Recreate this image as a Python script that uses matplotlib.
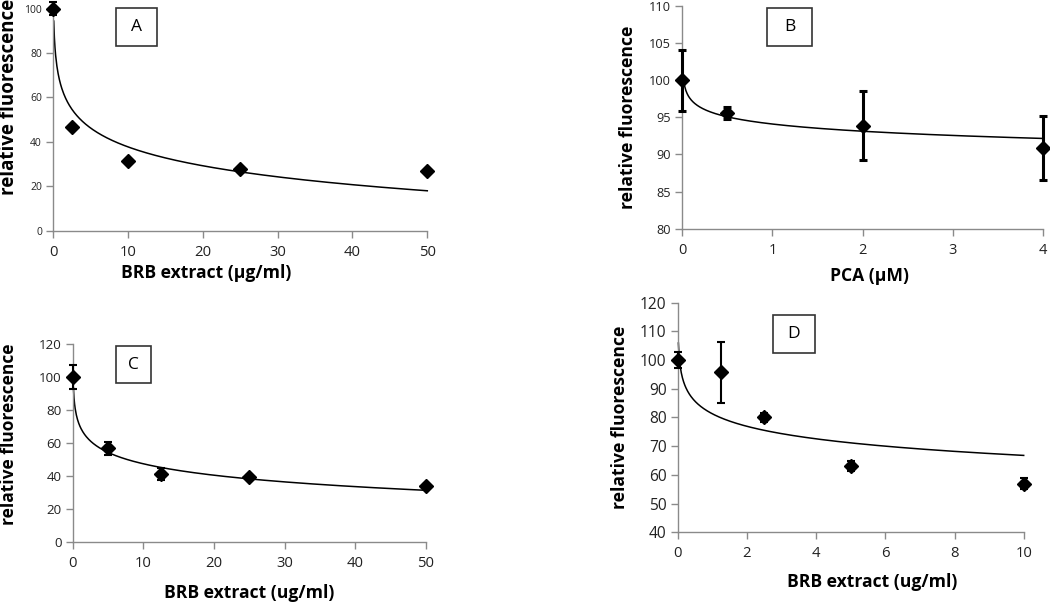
import numpy as np
import matplotlib
matplotlib.use('Agg')
import matplotlib.pyplot as plt
from matplotlib.patches import Rectangle

plt.rcParams['font.family'] = ['Open Sans', 'DejaVu Sans']

W, H = 1050, 604

# ---- data ----
# panel A: BRB extract (ug/ml)
a_x = [0, 2.5, 10, 25, 50]
a_y = [100, 46.5, 31.5, 28, 26.8]
a_err = [3, 0, 0, 0, 0]
a_fit = (-12.3, 66.1)      # y = k*ln(x) + c

# panel B: PCA (uM)
b_x = [0, 0.5, 2, 4]
b_y = [100, 95.6, 93.9, 90.9]
b_err = [4.1, 0.85, 4.7, 4.3]
b_fit = (-1.4, 94.1)

# panel C: BRB extract (ug/ml)
c_x = [0, 5, 12.5, 25, 50]
c_y = [100, 57, 41.2, 39.5, 34.2]
c_err = [7.2, 4, 3.8, 1, 1]
c_xerr = [0, 1, 1, 1, 1]
c_fit = (-10.0, 70.5)

# panel D: BRB extract (ug/ml)
d_x = [0, 1.25, 2.5, 5, 10]
d_y = [100, 95.7, 80.1, 63.1, 57.0]
d_err = [2.8, 10.5, 1.5, 1.8, 2]
d_fit = (-6.3, 81.3)

fig = plt.figure(figsize=(W / 100, H / 100), dpi=100)


def px_axes(box):
    l, t, r, b = box
    return fig.add_axes([l / W, 1 - b / H, (r - l) / W, (b - t) / H])


def to_ax(box, x, y):
    # pixel (top-left origin) -> axes fraction
    l, t, r, b = box
    return (x - l) / (r - l), (b - y) / (b - t)


def panel(box, x, y, err, fit, fit_x0, xlim, ylim, xticks, yticks,
          xlabel, xl_pos, yl_pos, letter, letter_box, ylab_size, xtick_size,
          ytick_size, elw=1.5, xerr=None):
    ax = px_axes(box)
    for s in ['top', 'right']:
        ax.spines[s].set_visible(False)
    for s in ['left', 'bottom']:
        ax.spines[s].set_color('#8a8a8a')
        ax.spines[s].set_linewidth(1.0)
    ax.tick_params(direction='out', length=5, width=1, color='#8a8a8a')
    ax.tick_params(axis='x', labelsize=xtick_size, labelcolor='#222222', pad=5)
    ax.tick_params(axis='y', labelsize=ytick_size, labelcolor='#222222', pad=3)

    # log trendline
    xx = np.linspace(fit_x0, xlim[1], 600)
    ax.plot(xx, fit[0] * np.log(xx) + fit[1], color='black', lw=1.1, clip_on=False)

    if xerr is not None:
        ax.errorbar(x, y, xerr=xerr, fmt='none', ecolor='#dcdcdc', elinewidth=1.5,
                    capsize=0, clip_on=False)
    ax.errorbar(x, y, yerr=err, fmt='D', color='black', ms=7.5, elinewidth=elw,
                capsize=3, capthick=elw, clip_on=False, zorder=3)

    ax.set_xlim(*xlim)
    ax.set_ylim(*ylim)
    ax.set_xticks(xticks)
    ax.set_yticks(yticks)

    ax.set_xlabel(xlabel, fontsize=12.6, fontweight='bold')
    ax.xaxis.set_label_coords(*to_ax(box, *xl_pos))
    ax.xaxis.label.set_va('center')
    ax.set_ylabel('relative fluorescence', fontsize=ylab_size, fontweight='bold')
    ax.yaxis.set_label_coords(*to_ax(box, *yl_pos))
    ax.yaxis.label.set_va('center')

    # letter box
    l, t, r, b = letter_box
    fig.patches.append(Rectangle((l / W, 1 - b / H), (r - l) / W, (b - t) / H,
                                 transform=fig.transFigure, fill=False,
                                 edgecolor='#333333', lw=1.2))
    fig.text((l + r) / 2 / W, 1 - (t + b) / 2 / H, letter, fontsize=12.5,
             ha='center', va='center')
    return ax


panel((53, 8.7, 427.3, 230.7), a_x, a_y, a_err, a_fit, 0.1,
      (0, 50), (0, 100), [0, 10, 20, 30, 40, 50], [0, 20, 40, 60, 80, 100],
      'BRB extract (µg/ml)', (206, 273), (9, 97), 'A', (116, 8, 157, 46),
      13.5, 10.7, 7.5)

panel((682.3, 6, 1042.7, 228.7), b_x, b_y, b_err, b_fit, 0.02,
      (0, 4), (80, 110), [0, 1, 2, 3, 4], [80, 85, 90, 95, 100, 105, 110],
      'PCA (µM)', (870, 276), (628.3, 117.5), 'B', (767.3, 8.3, 811.7, 46),
      12.6, 10.5, 9.2, elw=2.2)

panel((72.7, 344.3, 425.7, 542), c_x, c_y, c_err, c_fit, 0.1,
      (0, 50), (0, 120), [0, 10, 20, 30, 40, 50], [0, 20, 40, 60, 80, 100, 120],
      'BRB extract (ug/ml)', (249, 593), (9.5, 434), 'C', (116, 346, 150.7, 383.3),
      12.5, 10.7, 9.6, xerr=c_xerr)

panel((677.7, 302.7, 1023.7, 532.3), d_x, d_y, d_err, d_fit, 0.02,
      (0, 10), (40, 120), [0, 2, 4, 6, 8, 10], [40, 50, 60, 70, 80, 90, 100, 110, 120],
      'BRB extract (ug/ml)', (872, 582), (620, 417.5), 'D', (772.7, 315, 815, 352.7),
      12.6, 10.7, 11.2)

fig.savefig('out.png', dpi=100)
